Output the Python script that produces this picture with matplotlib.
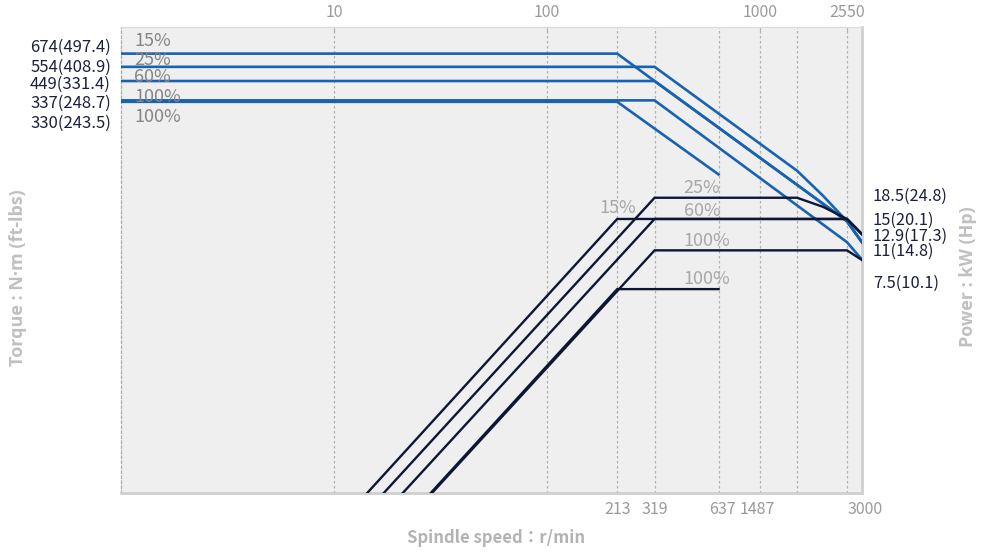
import matplotlib
matplotlib.use("Agg")
import matplotlib.pyplot as plt
from matplotlib.ticker import NullLocator
from matplotlib.transforms import ScaledTranslation

plt.rcParams['font.family'] = ['Noto Sans CJK SC', 'DejaVu Sans']

# ---- torque curves: spindle speed (r/min) vs torque (N·m) ----
t15_speed = [1, 213, 319, 2550, 3000]
t15_torque = [674, 674, 449, 56.2, 41.1]
t25_speed = [1, 319, 1487, 1972, 2550, 3000]
t25_torque = [554, 554, 118.8, 81.8, 56.2, 41.1]
t60_speed = [1, 319, 2550, 3000]
t60_torque = [449, 449, 56.2, 41.1]
t100a_speed = [1, 319, 2550, 3000]
t100a_torque = [337, 337, 41.2, 31.8]
t100b_speed = [1, 213, 637]
t100b_torque = [330, 330, 112.4]

# ---- power curves: spindle speed (r/min) vs power (kW) ----
p15_speed = [14.3, 213, 2550, 3000]
p15_kw = [1.0, 15, 15, 12.9]
p25_speed = [17.1, 319, 1487, 1972, 2550, 3000]
p25_kw = [1.0, 18.5, 18.5, 16.9, 15, 12.9]
p60_speed = [21.0, 319, 2550, 3000]
p60_kw = [1.0, 15, 15, 12.9]
p100a_speed = [28.8, 319, 2550, 3000]
p100a_kw = [1.0, 11, 11, 10.0]
p100b_speed = [28.4, 213, 637]
p100b_kw = [1.0, 7.5, 7.5]

grid_speeds = [10, 100, 213, 319, 637, 1000, 1487, 2550]
top_ticks = [10, 100, 1000, 2550]
bottom_ticks = [213, 319, 637, 1487, 3000]

torque_labels = ["674(497.4)", "554(408.9)", "449(331.4)", "337(248.7)", "330(243.5)"]
torque_duty = ["15%", "25%", "60%", "100%", "100%"]
power_labels = ["18.5(24.8)", "15(20.1)", "12.9(17.3)", "11(14.8)", "7.5(10.1)"]
power_duty = ["25%", "15%", "60%", "100%", "100%"]

W, H = 992, 552
BLUE = '#1763b2'
NAVY = '#0e1636'
GRID = '#b0b0b0'

fig = plt.figure(figsize=(W / 100, H / 100), dpi=100)
ax = fig.add_axes([121 / W, 1 - 493 / H, (862 - 121) / W, (493 - 27) / H])
ax.set_facecolor('#efefef')
ax.set_xscale('log')
ax.set_yscale('log')
ax.set_xlim(1, 3000)
ax.set_ylim(1, 1000)

ax2 = ax.twinx()
ax2.set_yscale('log')
ax2.set_ylim(1, 100)
for s in ax2.spines.values():
    s.set_visible(False)

for s in grid_speeds:
    ax.axvline(s, color=GRID, lw=0.9, ls=(0, (2, 2)), zorder=1)

# torque curves
for xs, ys in [(t15_speed, t15_torque), (t25_speed, t25_torque), (t60_speed, t60_torque),
               (t100a_speed, t100a_torque), (t100b_speed, t100b_torque)]:
    ax.plot(xs, ys, color=BLUE, lw=1.9, solid_joinstyle='miter', zorder=3)

# power curves
for xs, ys in [(p15_speed, p15_kw), (p25_speed, p25_kw), (p60_speed, p60_kw),
               (p100a_speed, p100a_kw), (p100b_speed, p100b_kw)]:
    ax2.plot(xs, ys, color=NAVY, lw=1.7, solid_joinstyle='miter', zorder=3)

# spines
ax.spines['left'].set_linestyle((0, (2, 2)))
ax.spines['left'].set_color('#a8a8a8')
ax.spines['left'].set_linewidth(0.9)
ax.spines['bottom'].set_color('#cfcfcf')
ax.spines['bottom'].set_linewidth(2)
ax.spines['right'].set_color('#cfcfcf')
ax.spines['right'].set_linewidth(2)
ax.spines['top'].set_color('#dcdcdc')
ax.spines['top'].set_linewidth(1)

# y axes carry no ticks
for a in (ax, ax2):
    a.yaxis.set_major_locator(NullLocator())
    a.yaxis.set_minor_locator(NullLocator())
    a.tick_params(axis='y', which='both', left=False, right=False,
                  labelleft=False, labelright=False)

# bottom speed ticks
ax.set_xticks(bottom_ticks, labels=[str(v) for v in bottom_ticks])
ax.xaxis.set_minor_locator(NullLocator())
ax.tick_params(axis='x', which='major', length=0, pad=6, labelsize=11.5, labelcolor='#9a9a9a')
shifts = {1487: -40, 637: 4, 3000: 3}
for val, lab in zip(bottom_ticks, ax.get_xticklabels()):
    if val in shifts:
        lab.set_transform(lab.get_transform() +
                          ScaledTranslation(shifts[val] / 100, 0, fig.dpi_scale_trans))

# top speed ticks
top = ax.secondary_xaxis('top')
top.set_xticks(top_ticks, labels=[str(v) for v in top_ticks])
top.xaxis.set_minor_locator(NullLocator())
top.tick_params(axis='x', which='major', direction='in', length=3, width=0.8,
                color='#b0b0b0', pad=4, labelsize=11.5, labelcolor='#9a9a9a')
top.spines['top'].set_visible(False)


def fx(x):
    return x / W


def fy(y):
    return 1 - y / H


# torque value labels and duty labels on the left
for lab, y in zip(torque_labels, [47, 67, 84, 103, 123]):
    fig.text(fx(111), fy(y), lab, ha='right', va='center', fontsize=12, color='#1b203e')
for lab, y in zip(torque_duty, [41, 60, 77, 97, 117]):
    fig.text(fx(134), fy(y), lab, ha='left', va='center', fontsize=13, color='#858585')

# power value labels on the right
for lab, y in zip(power_labels, [196, 220, 236, 251, 283]):
    fig.text(fx(873), fy(y), lab, ha='left', va='center', fontsize=11.8, color='#1b203e')

# duty labels along the power curves
for lab, (x, y) in zip(power_duty, [(702, 188), (618, 208), (702, 211), (707, 241), (707, 279)]):
    fig.text(fx(x), fy(y), lab, ha='center', va='center', fontsize=13, color='#a8a8a8')

# axis titles
fig.text(fx(18), fy(278), "Torque : N·m (ft-lbs)", rotation=90, ha='center', va='center',
         fontsize=13, fontweight='bold', color='#c0c0c0', family=['Open Sans', 'DejaVu Sans'])
fig.text(fx(968), fy(277), "Power : kW (Hp)", rotation=90, ha='center', va='center',
         fontsize=13, fontweight='bold', color='#c0c0c0', family=['Open Sans', 'DejaVu Sans'])
fig.text(fx(496), fy(538), "Spindle speed：r/min", ha='center', va='center',
         fontsize=12, fontweight='bold', color='#b3b3b3', family=['Noto Sans CJK TC', 'DejaVu Sans'])

fig.savefig('out.png', dpi=100, facecolor='white')
